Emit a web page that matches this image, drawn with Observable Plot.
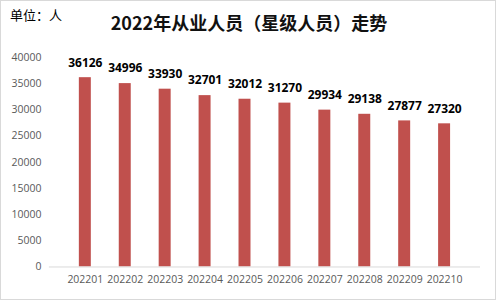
<!DOCTYPE html>
<html><head><meta charset="utf-8">
<script src="https://cdn.jsdelivr.net/npm/d3@7"></script>
<script src="https://cdn.jsdelivr.net/npm/@observablehq/plot@0.6"></script>
<style>
body{margin:0;background:#fff;}
#wrap{position:relative;width:496px;height:300px;box-sizing:border-box;border:1px solid #d9d9d9;overflow:hidden;}
#unit{position:absolute;left:9px;top:4px;font:13px "Noto Sans CJK SC",sans-serif;color:#000;}
#title{position:absolute;left:0;width:496px;top:8px;text-align:center;font:bold 18px "Noto Sans CJK SC",sans-serif;color:#111;}
#chart{position:absolute;left:-1px;top:-1px;}
</style></head>
<body><div id="wrap"><div id="unit">单位：人</div><div id="title">2022年从业人员（星级人员）走势</div><div id="chart"></div></div>
<script>
const months = ["202201","202202","202203","202204","202205","202206","202207","202208","202209","202210"];
const counts = [36126,34996,33930,32701,32012,31270,29934,29138,27877,27320];
const yTicks = [0,5000,10000,15000,20000,25000,30000,35000,40000];
const data = months.map((m,i)=>({m, v:counts[i]}));
const chart = Plot.plot({
  width:496, height:300,
  marginTop:57, marginBottom:33, marginLeft:49, marginRight:15,
  style:{fontFamily:"'Open Sans', 'Noto Sans', sans-serif", fontSize:"10.5px", background:"transparent"},
  x:{domain:months, padding:0.7, label:null, tickSize:0, tickPadding:9},
  y:{domain:[0,40000], ticks:yTicks, tickFormat:d=>String(d), label:null, tickSize:0, tickPadding:8},
  marks:[
    Plot.barY(data,{x:"m", y:"v", fill:"#C0504D"}),
    Plot.ruleY([0],{stroke:"#d9d9d9"}),
    Plot.text(data,{x:"m", y:"v", text:d=>String(d.v), dy:-15, fontWeight:"bold", fontSize:12, fill:"#000"}),
    Plot.axisX({tickSize:0, tickPadding:9, color:"#595959", fontSize:10.5, label:null}),
    Plot.axisY({ticks:yTicks, tickFormat:d=>String(d), tickSize:0, tickPadding:8, color:"#595959", fontSize:10.5, label:null})
  ]
});
document.getElementById("chart").appendChild(chart);
</script></body></html>
